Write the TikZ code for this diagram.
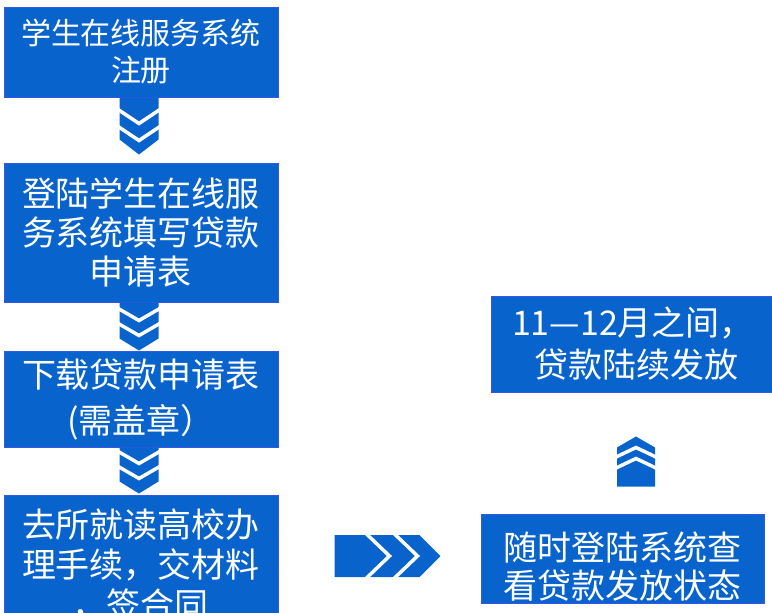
\documentclass[tikz,border=0pt]{standalone}
\usepackage{fontspec}
\newfontfamily\cjk{Noto Sans CJK SC}
\usetikzlibrary{calc}
\definecolor{boxblue}{RGB}{8,100,204}
\definecolor{boxedge}{RGB}{55,85,232}
\begin{document}
\begin{tikzpicture}[x = 1pt, y = -1pt,
  box/.style = {draw = boxedge, line width = 1pt, fill = boxblue, text = white, align = center,
    inner sep = 0pt, minimum width = 274pt, font = \cjk\fontsize{34}{40}\selectfont},
  chev/.style = {fill = boxblue},
  stripe/.style = {draw = white, line width = 3.5pt}]
\useasboundingbox (0,0) rectangle (772,613);
\clip (0,0) rectangle (772,613);
% left column
\node[box, minimum height = 90pt, font = \cjk\fontsize{30}{37}\selectfont] (reg) at (141,52) {学生在线服务系统\\注册};
\node[box, minimum height = 139pt, font = \cjk\fontsize{34}{39}\selectfont] (form) at (141,232.5) {登陆学生在线服\\务系统填写贷款\\申请表};
\node[box, minimum height = 96pt, font = \cjk\fontsize{34}{46}\selectfont] (print) at (141,399) {下载贷款申请表\\(需盖章）};
\node[box, minimum height = 140pt] (apply) at (141,565) {去所就读高校办\\理手续，交材料\\，签合同};
% right column
\node[box, minimum width = 283pt, minimum height = 89pt, font = \cjk\fontsize{34}{38}\selectfont] (check) at (622.5,558.5) {\rule{0pt}{44pt}随时登陆系统查\\看贷款发放状态};
\node[box, minimum width = 284pt, minimum height = 96pt, font = \cjk\fontsize{34}{42}\selectfont] (loan) at (633,344) {11—12月之间，\\~贷款陆续发放};
% down chevrons
\fill[chev] ($(reg.south)+(-21.5,0)$) -- ++(39,0) -- ++(0,42) -- ++(-19.5,15) -- ++(-19.5,-15) -- cycle;
\draw[stripe] ($(reg.south)+(-24.5,11)$) -- ++(22.5,15) -- ++(22.5,-15);
\draw[stripe] ($(reg.south)+(-24.5,28)$) -- ++(22.5,15) -- ++(22.5,-15);
\fill[chev] ($(form.south)+(-21.5,0)$) -- ++(39,0) -- ++(0,36) -- ++(-19.5,12) -- ++(-19.5,-12) -- cycle;
\draw[stripe] ($(form.south)+(-24.5,5)$) -- ++(22.5,13) -- ++(22.5,-13);
\draw[stripe] ($(form.south)+(-24.5,20)$) -- ++(22.5,13) -- ++(22.5,-13);
\fill[chev] ($(print.south)+(-21.5,0)$) -- ++(39,0) -- ++(0,34) -- ++(-19.5,12) -- ++(-19.5,-12) -- cycle;
\draw[stripe] ($(print.south)+(-24.5,3)$) -- ++(22.5,13) -- ++(22.5,-13);
\draw[stripe] ($(print.south)+(-24.5,18)$) -- ++(22.5,13) -- ++(22.5,-13);
% right arrow
\fill[chev] ($(check.west)+(-146,-23.5)$) -- ++(85,0) -- ++(21,21) -- ++(-21,21) -- ++(-85,0) -- cycle;
\draw[stripe] ($(check.west)+(-115,-25.5)$) -- ++(24,23) -- ++(-24,23);
\draw[stripe] ($(check.west)+(-87,-25.5)$) -- ++(24,23) -- ++(-24,23);
% up chevron
\fill[chev] ($(check.north)+(-5.5,-27)$) -- ++(38,0) -- ++(0,-39) -- ++(-19,-11) -- ++(-19,11) -- cycle;
\draw[stripe] ($(check.north)+(-8.5,-55.5)$) -- ++(22,-10.5) -- ++(22,10.5);
\draw[stripe] ($(check.north)+(-8.5,-44.5)$) -- ++(22,-10.5) -- ++(22,10.5);
\end{tikzpicture}
\end{document}
